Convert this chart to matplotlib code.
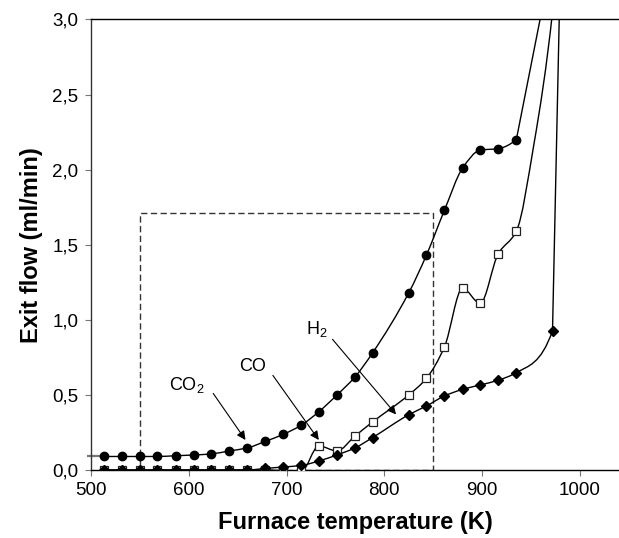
import numpy as np
import matplotlib
matplotlib.use("Agg")
import matplotlib.pyplot as plt
from matplotlib.path import Path
from matplotlib.patches import PathPatch, Rectangle
from matplotlib.ticker import FuncFormatter

plt.rcParams['font.family'] = ['Liberation Sans', 'DejaVu Sans']
plt.rcParams['mathtext.fontset'] = 'custom'
plt.rcParams['mathtext.rm'] = 'Liberation Sans'
plt.rcParams['mathtext.it'] = 'Liberation Sans'

# ---- data ----
temps = [513, 531.5, 550, 568, 586.5, 605, 623, 641.5, 660, 678, 696.5, 715,
         733, 751.5, 770, 788, 825, 843, 861.5, 880, 898, 916.5, 935]
co2 = [0.09, 0.09, 0.09, 0.09, 0.095, 0.10, 0.107, 0.127, 0.147, 0.19, 0.237, 0.298,
       0.388, 0.499, 0.62, 0.78, 1.18, 1.43, 1.73, 2.01, 2.13, 2.14, 2.20]
co = [0, 0, 0, 0, 0, 0, 0, 0, 0, 0, -0.005, -0.01,
      0.16, 0.127, 0.226, 0.32, 0.50, 0.61, 0.82, 1.21, 1.11, 1.44, 1.59]
h2_temps = temps + [972]
h2 = [0, 0, 0, 0, 0, 0, 0, 0, 0, 0.01, 0.02, 0.03,
      0.06, 0.10, 0.147, 0.216, 0.368, 0.426, 0.493, 0.537, 0.566, 0.598, 0.648, 0.927]

# line continuation beyond the last marker (runs off the top of the chart)
co2_ext_t = [972]
co2_ext_v = [3.42]
co_ext_t = [953, 972, 990]
co_ext_v = [2.17, 3.05, 4.6]
h2_ext_t = [980.5]
h2_ext_v = [3.5]

xticks = [500, 600, 700, 800, 900, 1000]
yticks = [0.0, 0.5, 1.0, 1.5, 2.0, 2.5, 3.0]
zoom_box = (550, 850, 0.0, 1.71)  # x0, x1, y0, y1 of dashed box


def pchip_slopes(x, y):
    x = np.asarray(x, float)
    y = np.asarray(y, float)
    h = np.diff(x)
    d = np.diff(y) / h
    n = len(x)
    m = np.zeros(n)
    for i in range(1, n - 1):
        if d[i - 1] * d[i] <= 0:
            m[i] = 0.0
        else:
            w1 = 2 * h[i] + h[i - 1]
            w2 = h[i] + 2 * h[i - 1]
            m[i] = (w1 + w2) / (w1 / d[i - 1] + w2 / d[i])
    m[0] = d[0]
    m[-1] = d[-1]
    return m


def smooth_path(xs, ys, tail_x=(), tail_y=(), tail_smooth=False):
    """Monotone cubic Hermite curve through the points, as a Bezier path.
    The tail (off-chart continuation) is straight unless tail_smooth."""
    x = np.asarray(list(xs) + list(tail_x), float)
    y = np.asarray(list(ys) + list(tail_y), float)
    m = pchip_slopes(x, y)
    n_smooth = len(x) if tail_smooth else len(xs)
    verts = [(x[0], y[0])]
    codes = [Path.MOVETO]
    for i in range(len(x) - 1):
        if i + 1 < n_smooth:
            h = x[i + 1] - x[i]
            verts += [(x[i] + h / 3, y[i] + m[i] * h / 3),
                      (x[i + 1] - h / 3, y[i + 1] - m[i + 1] * h / 3),
                      (x[i + 1], y[i + 1])]
            codes += [Path.CURVE4] * 3
        else:
            verts.append((x[i + 1], y[i + 1]))
            codes.append(Path.LINETO)
    return Path(verts, codes)


fig = plt.figure(figsize=(6.19, 5.38), dpi=100)
ax = fig.add_axes([0.147, 0.1264, 0.853, 0.8374])

paths = [smooth_path(temps, co2, co2_ext_t, co2_ext_v),
         smooth_path(temps, co, co_ext_t, co_ext_v, tail_smooth=True),
         smooth_path(h2_temps, h2, h2_ext_t, h2_ext_v)]
for p in paths:
    ax.add_patch(PathPatch(p, facecolor='none', edgecolor='black', lw=1.0, zorder=3))

# grey lead-in line of the CO2 series to the axis
ax.plot([496, temps[0]], [co2[0], co2[0]], color='#777777', lw=1.6, zorder=2,
        clip_on=False, solid_capstyle='butt')

ax.plot(temps, co2, linestyle='none', marker='o', ms=6, mfc='black', mec='black', zorder=5)
ax.plot(temps, co, linestyle='none', marker='s', ms=5.5, mfc='white', mec='#222222',
        mew=0.9, zorder=5)
ax.plot(h2_temps, h2, linestyle='none', marker='D', ms=4.8, mfc='black', mec='black', zorder=6)

# dashed box
x0, x1, y0, y1 = zoom_box
ax.add_patch(Rectangle((x0, y0), x1 - x0, y1 - y0, fill=False, ls=(0, (4.5, 2.5)),
                       lw=1.0, edgecolor='#333333', zorder=2))

ax.set_xlim(500, 1040)
ax.set_ylim(0, 3.0)
ax.set_xticks(xticks)
ax.set_yticks(yticks)
ax.yaxis.set_major_formatter(FuncFormatter(lambda v, p: f"{v:.1f}".replace('.', ',')))
ax.tick_params(direction='out', length=4, width=0.8, color='#777777',
               labelsize=13.5, pad=5)
ax.spines['right'].set_visible(False)
for s in ['left', 'bottom', 'top']:
    ax.spines[s].set_linewidth(1.0)
    ax.spines[s].set_color('black')
ax.spines['left'].set_color('#333333')

ax.set_xlabel('Furnace temperature (K)', fontsize=17, fontweight='bold', labelpad=8)
ax.set_ylabel('Exit flow (ml/min)', fontsize=17, fontweight='bold', labelpad=7)

arrow = dict(arrowstyle='-|>', color='black', lw=0.8, mutation_scale=13,
             shrinkA=0, shrinkB=0)
ax.text(597.8, 0.566, r'CO$_\mathregular{2}$', fontsize=13, ha='center', va='center')
ax.annotate('', xy=(658, 0.20), xytext=(625, 0.51), arrowprops=arrow)
ax.text(665, 0.686, 'CO', fontsize=13, ha='center', va='center')
ax.annotate('', xy=(733, 0.20), xytext=(686, 0.63), arrowprops=arrow)
ax.text(731, 0.94, r'H$_\mathregular{2}$', fontsize=13, ha='center', va='center')
ax.annotate('', xy=(812, 0.37), xytext=(747, 0.87), arrowprops=arrow)

fig.savefig('out.png', dpi=100)
